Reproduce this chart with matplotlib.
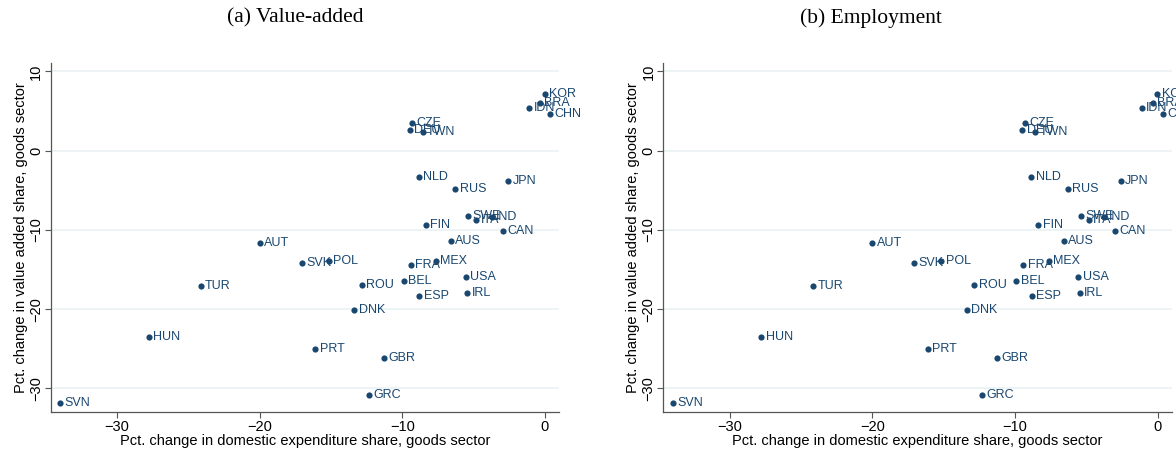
import matplotlib
matplotlib.use("Agg")
import matplotlib.pyplot as plt

countries = ["SVN", "HUN", "TUR", "AUT", "SVK", "POL", "ROU", "DNK", "PRT", "GBR", "GRC",
             "KOR", "BRA", "IDN", "CHN", "CZE", "DEU", "TWN", "NLD", "RUS", "JPN",
             "SWE", "FIN", "ITA", "IND", "CAN", "AUS", "MEX", "FRA", "BEL", "USA", "ESP", "IRL"]
dom_exp_change = [-34.0, -27.8, -24.15, -20.0, -17.06, -15.15, -12.86, -13.37, -16.11, -11.29, -12.32,
                  -0.02, -0.35, -1.10, 0.35, -9.30, -9.49, -8.58, -8.84, -6.29, -2.59,
                  -5.40, -8.37, -4.84, -3.74, -2.97, -6.59, -7.64, -9.42, -9.91, -5.56, -8.81, -5.45]
va_change = [-31.9, -23.56, -17.08, -11.65, -14.18, -13.89, -16.92, -20.08, -25.0, -26.2, -30.85,
             7.16, 5.98, 5.39, 4.63, 3.50, 2.61, 2.32, -3.32, -4.80, -3.86,
             -8.24, -9.34, -8.79, -8.33, -10.1, -11.4, -13.89, -14.47, -16.49, -15.95, -18.31, -18.0]
emp_change = list(va_change)

titles = ["(a) Value-added", "(b) Employment"]
xlabel = "Pct. change in domestic expenditure share, goods sector"
ylabel = "Pct. change in value added share, goods sector"
xticks = [-30, -20, -10, 0]
yticks = [-30, -20, -10, 0, 10]

navy = "#1a476f"
grid_c = "#eaf2f3"
sans = ["Liberation Sans", "DejaVu Sans"]

fig = plt.figure(figsize=(11.76, 4.57), dpi=100)
axes_pos = [[0.0431, 0.0978, 0.4322, 0.765], [0.564, 0.0978, 0.4322, 0.765]]
title_x = [295 / 1176, 871 / 1176]

for i, yvals in enumerate([va_change, emp_change]):
    ax = fig.add_axes(axes_pos[i])
    ax.scatter(dom_exp_change, yvals, s=20, color=navy, zorder=3, linewidths=0, clip_on=False)
    for c, xv, yv in zip(countries, dom_exp_change, yvals):
        ax.annotate(c, (xv, yv), xytext=(3.2, 0), textcoords="offset points",
                    va="center", ha="left", fontsize=9, color=navy,
                    family=sans, annotation_clip=False)
    ax.set_xlim(-34.66, 0.98)
    ax.set_ylim(-33.03, 11.1)
    ax.set_xticks(xticks)
    ax.set_yticks(yticks)
    ax.set_xticklabels([f"\u2212{abs(t)}" if t < 0 else str(t) for t in xticks], family=sans, fontsize=10.5)
    ax.set_yticklabels([f"\u2212{abs(t)}" if t < 0 else str(t) for t in yticks], family=sans, fontsize=10.5,
                       rotation=90, va="center")
    ax.grid(axis="y", color=grid_c, linewidth=1.2)
    ax.set_axisbelow(True)
    for s in ["top", "right"]:
        ax.spines[s].set_visible(False)
    for s in ["left", "bottom"]:
        ax.spines[s].set_color("#555555")
        ax.spines[s].set_linewidth(0.9)
    ax.tick_params(axis="both", length=4, width=0.8, color="#555555", pad=1.5)
    ax.set_xlabel(xlabel, family=sans, fontsize=10.5, labelpad=0)
    ax.set_ylabel(ylabel, family=sans, fontsize=10.5, labelpad=1)
    fig.text(title_x[i], 1 - 18 / 457, titles[i], ha="center", va="center",
             family=["Liberation Serif", "DejaVu Serif"], fontsize=15.5)

fig.savefig("out.png", dpi=100)
